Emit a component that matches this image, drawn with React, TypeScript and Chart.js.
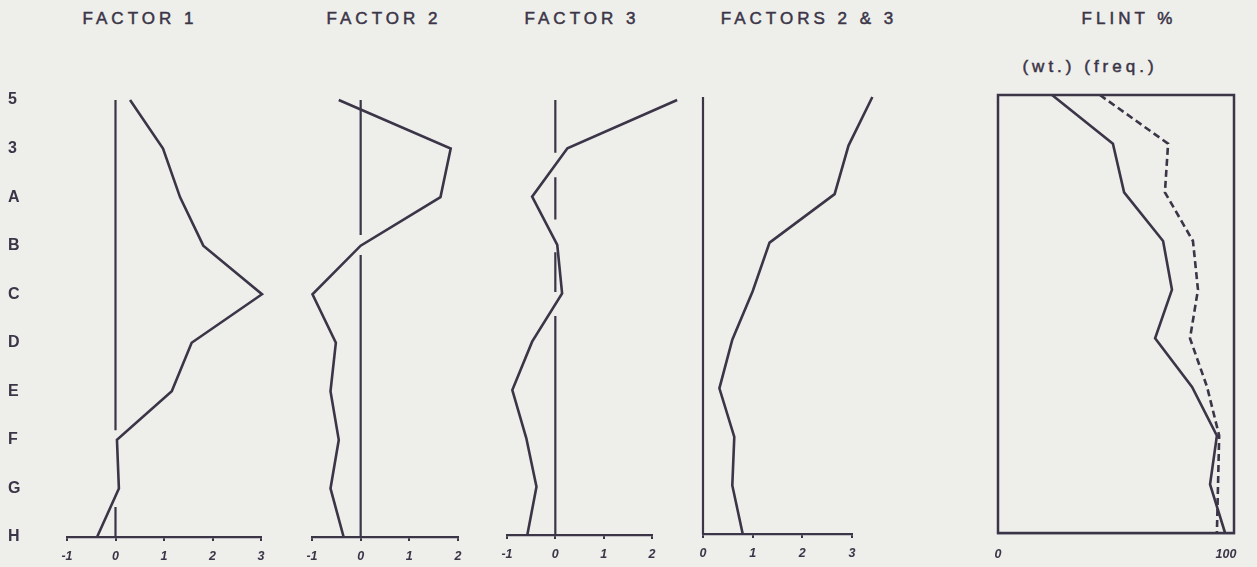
import React, { useEffect, useRef } from 'react';
import { Chart, registerables } from 'chart.js';

Chart.register(...registerables);

// ---------- data ----------
const LEVELS = ['5', '3', 'A', 'B', 'C', 'D', 'E', 'F', 'G', 'H'];

const FACTOR1 = [0.3, 0.98, 1.33, 1.81, 3.02, 1.57, 1.16, 0.03, 0.07, -0.38];
const FACTOR2 = [-0.45, 1.85, 1.64, 0.0, -0.99, -0.51, -0.62, -0.45, -0.62, -0.35];
const FACTOR3 = [2.52, 0.25, -0.48, 0.04, 0.14, -0.48, -0.89, -0.6, -0.39, -0.58];
const FACTORS23 = [3.41, 2.93, 2.65, 1.34, 1.0, 0.59, 0.33, 0.63, 0.59, 0.8];
const FLINT_WT = [23.7, 50.4, 55.3, 72.4, 76.3, 68.9, 85.1, 96, 93, 99.6];
const FLINT_FREQ = [44.7, 74.6, 73.2, 85.5, 87.7, 84.2, 91.7, 97, 96.5, 96];

const TICKS1 = [-1, 0, 1, 2, 3];
const TICKS2 = [-1, 0, 1, 2];
const TICKS3 = [-1, 0, 1, 2];
const TICKS23 = [0, 1, 2, 3];
const TICKS_FLINT = [0, 100];

// zero reference line pieces (level-index ranges where it is drawn)
const REF1 = [[0, 6.8], [8.38, 9]];
const REF2 = [[0, 2.78], [3.19, 9]];
const REF3 = [[0, 1.09], [1.6, 2.47], [3.15, 3.97], [4.47, 9]];
const REF23 = [[0, 9]];

const TITLES = ['FACTOR 1', 'FACTOR 2', 'FACTOR 3', 'FACTORS 2 & 3', 'FLINT %'];
const FLINT_SUB = '(wt.)  (freq.)';

// ---------- styling / layout ----------
const W = 1257;
const H = 567;
const INK = '#3b3547';
const BG = '#eeeeeb';
const FAMILY = '"Liberation Sans", Arial, Helvetica, sans-serif';

type Series = { values: number[]; dash?: number[] };
type Panel = {
  left: number; right: number; top: number; bottom: number;
  min: number; max: number; ticks: number[];
  series: Series[]; ref?: number[][]; showLevels?: boolean; frame?: boolean; tickMarks: boolean;
};

const PANELS: Panel[] = [
  { left: 67, right: 261, top: 100, bottom: 537, min: -1, max: 3, ticks: TICKS1, series: [{ values: FACTOR1 }], ref: REF1, showLevels: true, tickMarks: true },
  { left: 312, right: 458, top: 100, bottom: 537, min: -1, max: 2, ticks: TICKS2, series: [{ values: FACTOR2 }], ref: REF2, tickMarks: true },
  { left: 507, right: 652, top: 100, bottom: 535, min: -1, max: 2, ticks: TICKS3, series: [{ values: FACTOR3 }], ref: REF3, tickMarks: true },
  { left: 703, right: 852, top: 97, bottom: 534, min: 0, max: 3, ticks: TICKS23, series: [{ values: FACTORS23 }], ref: REF23, tickMarks: true },
  { left: 998, right: 1234, top: 95, bottom: 533, min: 0, max: 103.5, ticks: TICKS_FLINT, series: [{ values: FLINT_WT }, { values: FLINT_FREQ, dash: [7, 4] }], frame: true, tickMarks: false },
];

const framePlugin = {
  id: 'frame',
  afterDatasetsDraw(chart: any) {
    const { ctx, chartArea: a } = chart;
    ctx.save();
    ctx.strokeStyle = INK;
    ctx.lineWidth = 2.5;
    ctx.strokeRect(a.left, a.top, a.right - a.left, a.bottom - a.top);
    ctx.restore();
  },
};

function refPoints(segs: number[][]) {
  const pts: any[] = [];
  segs.forEach((s, i) => {
    if (i > 0) pts.push({ x: 0, y: null });
    pts.push({ x: 0, y: s[0] });
    pts.push({ x: 0, y: s[1] });
  });
  return pts;
}

function makeChart(canvas: HTMLCanvasElement, p: Panel) {
  const datasets: any[] = [];
  if (p.ref) {
    datasets.push({
      data: refPoints(p.ref), borderColor: INK, borderWidth: 2.2, pointRadius: 0,
      spanGaps: false, clip: false, borderCapStyle: 'butt',
    });
  }
  p.series.forEach((s) => {
    datasets.push({
      data: s.values.map((v, i) => ({ x: v, y: i })),
      borderColor: INK, borderWidth: 2.6, borderDash: s.dash || [], pointRadius: 0,
      tension: 0, clip: false, borderCapStyle: 'butt',
    });
  });
  return new Chart(canvas, {
    type: 'line',
    data: { datasets },
    options: {
      animation: false,
      responsive: false,
      maintainAspectRatio: false,
      events: [],
      layout: {
        padding: { left: p.showLevels ? 8 : p.left, right: W - p.right, top: p.top, bottom: 0 },
      },
      plugins: { legend: { display: false }, tooltip: { enabled: false }, title: { display: false } },
      scales: {
        x: {
          type: 'linear', position: 'bottom', min: p.min, max: p.max,
          afterBuildTicks: (s: any) => { s.ticks = p.ticks.map((v) => ({ value: v })); },
          afterFit: (s: any) => { s.height = H - p.bottom; },
          border: { display: true, color: INK, width: 2.3 },
          grid: { display: true, drawOnChartArea: false, drawTicks: p.tickMarks, tickLength: 4, color: INK, lineWidth: 2 },
          ticks: {
            color: INK, padding: p.tickMarks ? 8 : 14, maxRotation: 0, autoSkip: false,
            font: { family: FAMILY, size: 12.5, style: 'italic', weight: 'bold' },
          },
        },
        y: {
          type: 'linear', min: 0, max: 9, reverse: true, display: !!p.showLevels,
          afterFit: (s: any) => { s.width = p.showLevels ? p.left - 8 : 0; },
          border: { display: false }, grid: { display: false },
          ticks: {
            stepSize: 1, callback: (v: any) => LEVELS[v] ?? '', crossAlign: 'far', padding: 0,
            color: INK, font: { family: FAMILY, size: 16, weight: 'bold' },
          },
        },
      },
    } as any,
    plugins: p.frame ? [framePlugin] : [],
  });
}

function PanelCanvas({ p }: { p: Panel }) {
  const ref = useRef<HTMLCanvasElement>(null);
  useEffect(() => {
    if (!ref.current) return;
    const c = makeChart(ref.current, p);
    return () => c.destroy();
  }, [p]);
  return (
    <canvas ref={ref} width={W} height={H}
      style={{ position: 'absolute', left: 0, top: 0, width: W, height: H }} />
  );
}

const titleStyle: React.CSSProperties = {
  position: 'absolute', fontFamily: FAMILY, fontSize: 17, letterSpacing: 4,
  color: INK, whiteSpace: 'nowrap', transform: 'translateX(-50%)', lineHeight: '20px',
  WebkitTextStroke: '0.5px ' + INK,
};

const TITLE_CENTERS = [140, 384, 582, 809, 1129];

export default function App() {
  return (
    <div style={{ position: 'fixed', left: 0, top: 0, width: W, height: H, background: BG, overflow: 'hidden' }}>
      {TITLES.map((t, i) => (
        <div key={t} style={{ ...titleStyle, left: TITLE_CENTERS[i], top: 9 }}>{t}</div>
      ))}
      <div style={{ ...titleStyle, left: 1090, top: 57 }}>{FLINT_SUB}</div>
      {PANELS.map((p, i) => <PanelCanvas key={i} p={p} />)}
    </div>
  );
}
